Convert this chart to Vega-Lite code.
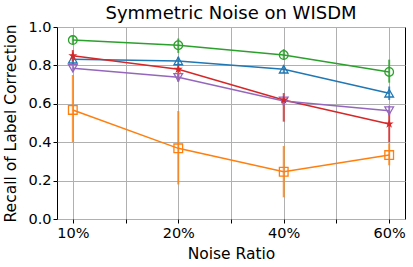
{
  "$schema": "https://vega.github.io/schema/vega-lite/v6.json",
  "width": 348,
  "height": 192,
  "autosize": "none",
  "padding": {"left": 57, "top": 27, "right": 8, "bottom": 48},
  "background": "white",
  "config": {
    "font": "DejaVu Sans",
    "view": {"stroke": "black", "strokeWidth": 1},
    "axis": {"domain": false, "gridColor": "#b0b0b0", "gridWidth": 1, "gridOpacity": 1, "tickColor": "black", "tickSize": 4, "labelFont": "DejaVu Sans", "labelFontSize": 14.5, "labelColor": "black", "labelOverlap": false, "titleFont": "DejaVu Sans", "titleFontSize": 15.5, "titleFontWeight": "normal", "titleColor": "black"}
  },
  "title": {"text": "Symmetric Noise on WISDM", "fontSize": 18, "fontWeight": "normal", "font": "DejaVu Sans", "offset": 2, "dy": 6, "color": "black"},
  "data": {"values": [
    {"s": "green", "x": 0, "y": 0.932, "lo": 0.91, "hi": 0.955},
    {"s": "green", "x": 1, "y": 0.905, "lo": 0.865, "hi": 0.94},
    {"s": "green", "x": 2, "y": 0.854, "lo": 0.83, "hi": 0.885},
    {"s": "green", "x": 3, "y": 0.766, "lo": 0.71, "hi": 0.83},
    {"s": "blue", "x": 0, "y": 0.832, "lo": 0.80, "hi": 0.86},
    {"s": "blue", "x": 1, "y": 0.823, "lo": 0.80, "hi": 0.845},
    {"s": "blue", "x": 2, "y": 0.78, "lo": 0.76, "hi": 0.80},
    {"s": "blue", "x": 3, "y": 0.655, "lo": 0.62, "hi": 0.69},
    {"s": "red", "x": 0, "y": 0.85, "lo": 0.82, "hi": 0.88},
    {"s": "red", "x": 1, "y": 0.78, "lo": 0.715, "hi": 0.81},
    {"s": "red", "x": 2, "y": 0.62, "lo": 0.507, "hi": 0.656},
    {"s": "red", "x": 3, "y": 0.495, "lo": 0.40, "hi": 0.56},
    {"s": "purple", "x": 0, "y": 0.785, "lo": 0.77, "hi": 0.80},
    {"s": "purple", "x": 1, "y": 0.738, "lo": 0.72, "hi": 0.755},
    {"s": "purple", "x": 2, "y": 0.615, "lo": 0.59, "hi": 0.64},
    {"s": "purple", "x": 3, "y": 0.564, "lo": 0.54, "hi": 0.59},
    {"s": "orange", "x": 0, "y": 0.568, "lo": 0.40, "hi": 0.75},
    {"s": "orange", "x": 1, "y": 0.368, "lo": 0.18, "hi": 0.5625},
    {"s": "orange", "x": 2, "y": 0.246, "lo": 0.113, "hi": 0.38},
    {"s": "orange", "x": 3, "y": 0.333, "lo": 0.28, "hi": 0.394}
  ]},
  "encoding": {
    "x": {"field": "x", "type": "quantitative", "scale": {"domain": [-0.15, 3.15], "nice": false, "zero": false},
      "axis": {"title": "Noise Ratio", "values": [0, 0.5, 1, 1.5, 2, 2.5, 3], "labelExpr": "datum.value == 0 ? '10%' : datum.value == 1 ? '20%' : datum.value == 2 ? '40%' : datum.value == 3 ? '60%' : ''", "titlePadding": 7, "labelPadding": 3}},
    "color": {"field": "s", "type": "nominal", "legend": null,
      "scale": {"domain": ["green", "blue", "red", "purple", "orange"], "range": ["#2ca02c", "#1f77b4", "#d62728", "#9467bd", "#ff7f0e"]}}
  },
  "layer": [
    {"mark": {"type": "rule", "strokeWidth": 2, "opacity": 0.8},
      "encoding": {"y": {"field": "lo", "type": "quantitative", "scale": {"domain": [0, 1], "nice": false},
        "axis": {"title": "Recall of Label Correction", "values": [0, 0.2, 0.4, 0.6, 0.8, 1.0], "format": ".1f", "titlePadding": 9, "labelPadding": 2}}, "y2": {"field": "hi"}}},
    {"mark": {"type": "line", "strokeWidth": 1.5},
      "encoding": {"y": {"field": "y", "type": "quantitative", "scale": {"domain": [0, 1], "nice": false},
        "axis": {"title": "Recall of Label Correction", "values": [0, 0.2, 0.4, 0.6, 0.8, 1.0], "format": ".1f", "titlePadding": 9, "labelPadding": 2}}}},
    {"transform": [{"filter": "datum.s != 'red'"}],
      "mark": {"type": "point", "filled": false, "strokeWidth": 1.3, "size": 75, "opacity": 1},
      "encoding": {"y": {"field": "y", "type": "quantitative", "scale": {"domain": [0, 1], "nice": false},
        "axis": {"title": "Recall of Label Correction", "values": [0, 0.2, 0.4, 0.6, 0.8, 1.0], "format": ".1f", "titlePadding": 9, "labelPadding": 2}},
        "shape": {"field": "s", "type": "nominal", "legend": null,
          "scale": {"domain": ["green", "blue", "purple", "orange"], "range": ["circle", "triangle-up", "triangle-down", "square"]}}}},
    {"transform": [{"filter": "datum.s == 'red'"}],
      "mark": {"type": "point", "filled": true, "size": 90, "opacity": 1,
        "shape": "M0,-1L0.2245,-0.309L0.951,-0.309L0.363,0.118L0.588,0.809L0,0.382L-0.588,0.809L-0.363,0.118L-0.951,-0.309L-0.2245,-0.309Z"},
      "encoding": {"y": {"field": "y", "type": "quantitative", "scale": {"domain": [0, 1], "nice": false},
        "axis": {"title": "Recall of Label Correction", "values": [0, 0.2, 0.4, 0.6, 0.8, 1.0], "format": ".1f", "titlePadding": 9, "labelPadding": 2}}}}
  ]
}
